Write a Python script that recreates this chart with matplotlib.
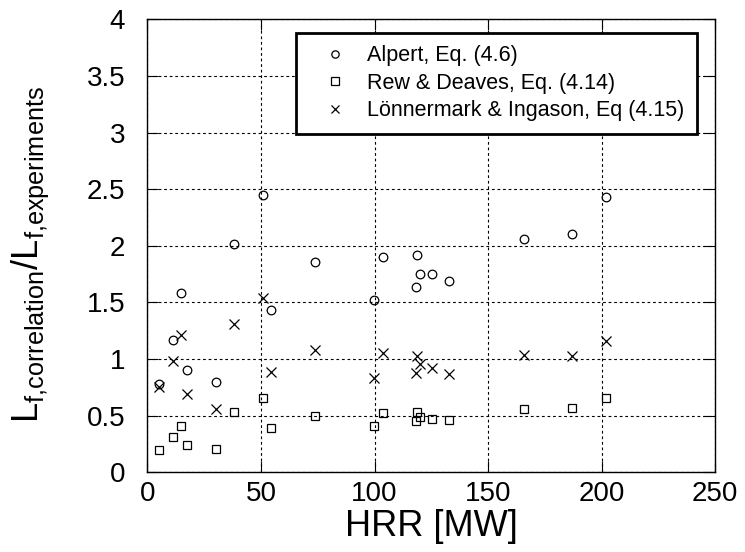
import matplotlib
matplotlib.use("Agg")
import matplotlib.pyplot as plt

plt.rcParams["font.family"] = ["Liberation Sans", "DejaVu Sans"]
plt.rcParams["mathtext.fontset"] = "custom"
plt.rcParams["mathtext.rm"] = "Liberation Sans"
plt.rcParams["mathtext.it"] = "Liberation Sans"

# HRR [MW] and ratio L_f,correlation / L_f,experiments
hrr = [5.1, 11.2, 14.8, 17.3, 30.2, 38.1, 50.8, 54.3, 73.6,
       99.9, 103.8, 118.7, 118.1, 120.0, 125.3, 133.0, 166.0, 187.1, 201.7]
alpert = [0.78, 1.17, 1.58, 0.90, 0.80, 2.02, 2.45, 1.43, 1.86,
          1.52, 1.90, 1.92, 1.64, 1.75, 1.75, 1.69, 2.06, 2.10, 2.43]
rew_deaves = [0.20, 0.31, 0.41, 0.24, 0.21, 0.53, 0.66, 0.39, 0.50,
              0.41, 0.52, 0.53, 0.45, 0.49, 0.47, 0.46, 0.56, 0.57, 0.66]
lonnermark = [0.75, 0.98, 1.21, 0.69, 0.56, 1.31, 1.54, 0.89, 1.08,
              0.83, 1.05, 1.03, 0.88, 0.96, 0.92, 0.87, 1.04, 1.03, 1.16]

x_ticks = [0, 50, 100, 150, 200, 250]
y_ticks = [0, 0.5, 1, 1.5, 2, 2.5, 3, 3.5, 4]
y_tick_labels = ["0", "0.5", "1", "1.5", "2", "2.5", "3", "3.5", "4"]

fig = plt.figure(figsize=(7.45, 5.52), dpi=100)
ax = fig.add_axes([147.3 / 745, 1 - 472.3 / 552, 568 / 745, 453 / 552])

mk = dict(linestyle="none", markerfacecolor="none", markeredgecolor="black",
          color="black", markeredgewidth=0.9)
ax.plot(hrr, alpert, marker="o", markersize=6.2, label="Alpert, Eq. (4.6)", **mk)
ax.plot(hrr, rew_deaves, marker="s", markersize=6, label="Rew & Deaves, Eq. (4.14)", **mk)
ax.plot(hrr, lonnermark, marker="x", markersize=7, label="Lönnermark & Ingason, Eq (4.15)", **mk)

ax.set_xlim(0, 250)
ax.set_ylim(0, 4)
ax.set_xticks(x_ticks)
ax.set_yticks(y_ticks)
ax.set_yticklabels(y_tick_labels)
ax.tick_params(direction="in", length=8, width=0.8, top=True, right=True,
               labelsize=20)
ax.tick_params(axis="x", pad=6)
ax.tick_params(axis="y", pad=16)
ax.grid(True, color="black", linestyle=(0, (2.5, 2.5)), linewidth=0.8)
for s in ax.spines.values():
    s.set_linewidth(1.0)

ax.set_xlabel("HRR [MW]", fontsize=26, labelpad=2)
ax.set_ylabel(r"$\mathregular{L_{f{,}correlation}/L_{f{,}experiments}}$",
              fontsize=26)
ax.yaxis.set_label_coords(-0.17, 0.48)

leg = ax.legend(loc="upper right", bbox_to_anchor=(0.967, 0.970),
                borderaxespad=0, fontsize=15.5, markerscale=0.85,
                fancybox=False, framealpha=1, edgecolor="black",
                handletextpad=0.26, labelspacing=0.3, borderpad=0.58,
                handlelength=2.46)
leg.get_frame().set_linewidth(2)

fig.savefig("out.png", dpi=100)
